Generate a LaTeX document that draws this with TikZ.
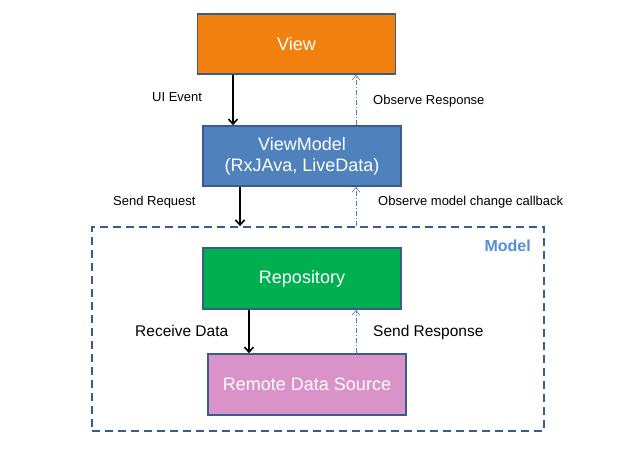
\documentclass[tikz,border=0pt]{standalone}
\usepackage{fontspec}
\setmainfont{Liberation Sans}
\usetikzlibrary{arrows.meta}
\definecolor{vieworange}{HTML}{F2800F}
\definecolor{vmblue}{HTML}{4F81BD}
\definecolor{repogreen}{HTML}{00B050}
\definecolor{remotepink}{HTML}{DA93C8}
\definecolor{boxborder}{HTML}{385D8A}
\definecolor{dashblue}{HTML}{4A7EBB}
\definecolor{modelblue}{HTML}{558ED5}
\tikzset{
  layerbox/.style={draw=boxborder, line width=1.5pt, minimum width=198pt, minimum height=60pt, inner sep=0pt, text=white, font=\fontsize{18}{21}\selectfont, align=center},
  callarrow/.style={line width=1.6pt, -{Straight Barb[length=5pt,width=9pt]}},
  backarrow/.style={draw=dashblue, line width=0.6pt, dash pattern=on 5pt off 2pt on 1pt off 2pt, -{Straight Barb[length=5pt,width=8pt]}},
  lbl/.style={anchor=west, inner sep=0pt, font=\fontsize{13}{15}\selectfont},
  biglbl/.style={anchor=west, inner sep=0pt, font=\fontsize{15.5}{18}\selectfont}
}
\begin{document}
\begin{tikzpicture}[x=1pt,y=-1pt]
\useasboundingbox (0,0) rectangle (622,469);
\node[layerbox, fill=vieworange] (view) at (296.5,44) {View};
\node[layerbox, fill=vmblue] (vm) at (302,156) {ViewModel\\(RxJAva, LiveData)};
\node[layerbox, fill=repogreen, minimum height=61pt] (repo) at (302,278.5) {Repository};
\node[layerbox, fill=remotepink, minimum height=61pt] (remote) at (307,384.5) {Remote Data Source};
\node[draw=boxborder, line width=1.8pt, dash pattern=on 8pt off 5pt, minimum width=452pt, minimum height=204pt, inner sep=0pt] (model) at (318,329) {};
\node[anchor=east, inner sep=0pt, text=modelblue, font=\fontsize{16}{19}\selectfont\bfseries] (modellbl) at (531,246) {Model};
\coordinate (c1) at (233,0);
\coordinate (c2) at (240,0);
\coordinate (c3) at (249,0);
\coordinate (cb) at (356,0);
\draw[callarrow] (view.south -| c1) -- (vm.north -| c1);
\draw[backarrow] (vm.north -| cb) -- (view.south -| cb);
\draw[callarrow] (vm.south -| c2) -- (model.north -| c2);
\draw[backarrow] (model.north -| cb) -- (vm.south -| cb);
\draw[callarrow] (repo.south -| c3) -- (remote.north -| c3);
\draw[backarrow] (remote.north -| cb) -- (repo.south -| cb);
\node[lbl] (l1) at (152,97) {UI Event};
\node[lbl] (l2) at (373,101) {Observe Response};
\node[lbl] (l3) at (113,202) {Send Request};
\node[lbl] (l4) at (378,202) {Observe model change callback};
\node[biglbl] (l5) at (135,331) {Receive Data};
\node[biglbl] (l6) at (373,332) {Send Response};
\end{tikzpicture}
\end{document}
